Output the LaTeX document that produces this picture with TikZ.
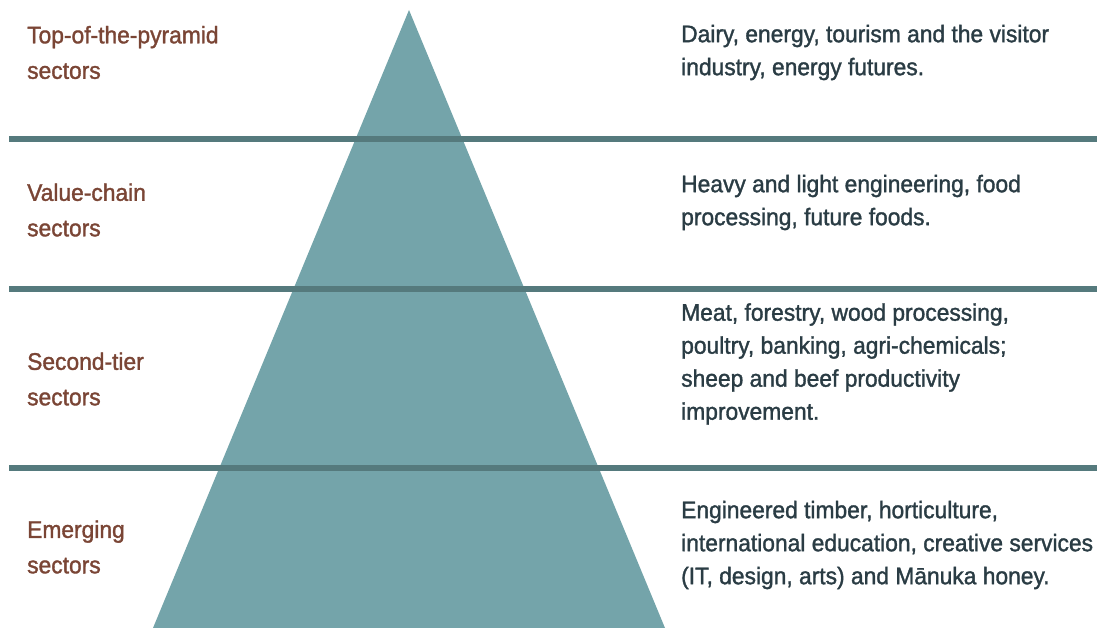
\documentclass[tikz,border=0pt]{standalone}
\usepackage{fontspec}
\setmainfont{Liberation Sans}[FakeStretch=0.95,FakeBold=1.4]
\definecolor{pyr}{HTML}{74A4AA}
\definecolor{band}{HTML}{557A7D}
\definecolor{lab}{HTML}{7A4535}
\definecolor{desc}{HTML}{2A3C44}
\begin{document}
\begin{tikzpicture}[x=1pt,y=1pt,
  sep/.style={draw=band,line width=6pt},
  lbl/.style={anchor=west,inner sep=0pt,align=left,text=lab,font=\fontsize{24}{35.5}\selectfont},
  dsc/.style={anchor=west,inner sep=0pt,align=left,text=desc,font=\fontsize{24}{33}\selectfont}]
\useasboundingbox (0,0) rectangle (1097,-628);
\fill[pyr] (409,-10) coordinate (apex) -- (665,-628) coordinate (br) -- (153,-628) coordinate (bl) -- cycle;
\coordinate (l1a) at (9,-139); \coordinate (l1b) at (1097,-139);
\coordinate (l2a) at (9,-289); \coordinate (l2b) at (1097,-289);
\coordinate (l3a) at (9,-468); \coordinate (l3b) at (1097,-468);
\draw[sep] (l1a) -- (l1b);
\draw[sep] (l2a) -- (l2b);
\draw[sep] (l3a) -- (l3b);
\node[lbl] (t1) at (27,-52.5) {Top-of-the-pyramid\\sectors};
\node[lbl] (t2) at (27,-210) {Value-chain\\sectors};
\node[lbl] (t3) at (27,-379) {Second-tier\\sectors};
\node[lbl] (t4) at (27,-547) {Emerging\\sectors};
\node[dsc] (d1) at (681,-52.5) {Dairy, energy, tourism and the visitor\\industry, energy futures.};
\node[dsc] (d2) at (681,-202.5) {Heavy and light engineering, food\\processing, future foods.};
\node[dsc] (d3) at (681,-364) {Meat, forestry, wood processing,\\poultry, banking, agri-chemicals;\\sheep and beef productivity\\improvement.};
\node[dsc] (d4) at (681,-545) {Engineered timber, horticulture,\\international education, creative services\\(IT, design, arts) and Mānuka honey.};
\end{tikzpicture}
\end{document}
